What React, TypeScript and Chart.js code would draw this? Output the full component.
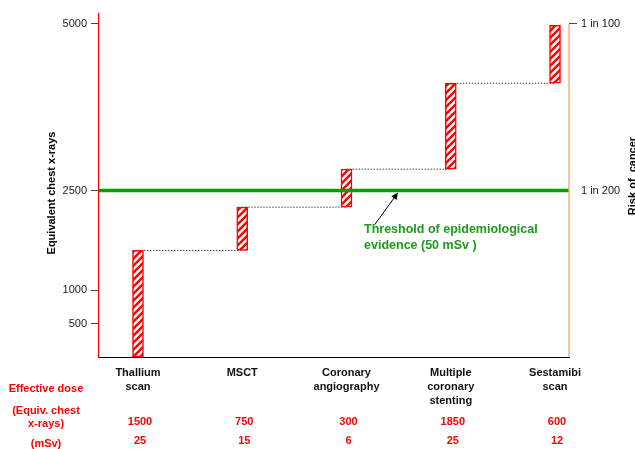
import React, { useEffect, useRef } from 'react';
import { Chart, registerables } from 'chart.js';

Chart.register(...registerables);

// ---------- data ----------
const procedures: string[][] = [
  ['Thallium', 'scan'],
  ['MSCT'],
  ['Coronary', 'angiography'],
  ['Multiple', 'coronary', 'stenting'],
  ['Sestamibi', 'scan'],
];
const barStart = [0, 1600, 2250, 2820, 4110];
const barEnd = [1600, 2250, 2820, 4110, 4980];
const doseChestXrays = ['1500', '750', '300', '1850', '600'];
const doseMsv = ['25', '15', '6', '25', '12'];
const yTicks = [500, 1000, 2500, 5000];
const riskTickValues = [2500, 5000];
const riskTickLabels = ['1 in 200', '1 in 100'];
const thresholdValue = 2500;
const thresholdText = ['Threshold of epidemiological', 'evidence (50 mSv )'];
const rowLabels = ['Effective dose', '(Equiv. chest', 'x-rays)', '(mSv)'];

// ---------- style constants ----------
const FONT = "'Liberation Sans', Arial, Helvetica, sans-serif";
const RED = '#ff0000';
const GREEN = '#00a000';
const GREEN_TEXT = '#1c9c1c';
const ORANGE = '#ffa466';
const Y_MIN = 0;
const Y_MAX = 5150;
const X_MIN = -0.374;
const X_MAX = 4.134;

function makeHatch(): CanvasPattern | string {
  const s = 7;
  const c = document.createElement('canvas');
  c.width = s;
  c.height = s;
  const g = c.getContext('2d');
  if (!g) return RED;
  g.fillStyle = '#ffffff';
  g.fillRect(0, 0, s, s);
  g.strokeStyle = RED;
  g.lineWidth = 2.4;
  g.beginPath();
  g.moveTo(0, s);
  g.lineTo(s, 0);
  g.moveTo(-1, 1);
  g.lineTo(1, -1);
  g.moveTo(s - 1, s + 1);
  g.lineTo(s + 1, s - 1);
  g.stroke();
  const p = g.createPattern(c, 'repeat');
  return p || RED;
}

const overlayPlugin = {
  id: 'overlay',
  afterDraw(chart: any) {
    const { ctx, chartArea } = chart;
    const xs = chart.scales.x;
    const ys = chart.scales.y;
    ctx.save();

    // right risk axis line (orange)
    ctx.strokeStyle = ORANGE;
    ctx.lineWidth = 1.3;
    ctx.beginPath();
    ctx.moveTo(chartArea.right, ys.getPixelForValue(riskTickValues[1]));
    ctx.lineTo(chartArea.right, chartArea.bottom);
    ctx.stroke();

    // left axis title
    ctx.fillStyle = '#000';
    ctx.font = `bold 11px ${FONT}`;
    ctx.textAlign = 'center';
    ctx.textBaseline = 'middle';
    ctx.save();
    ctx.translate(52, 193);
    ctx.rotate(-Math.PI / 2);
    ctx.fillText('Equivalent chest x-rays', 0, 0);
    ctx.restore();

    // right axis title (partly off canvas)
    ctx.save();
    ctx.translate(636, 176);
    ctx.rotate(-Math.PI / 2);
    ctx.textBaseline = 'alphabetic';
    ctx.fillText('Risk of  cancer', 0, 0);
    ctx.restore();

    // threshold annotation: arrow
    const tipX = xs.getPixelForValue(2.494);
    const tipY = ys.getPixelForValue(thresholdValue) + 2;
    const tailX = xs.getPixelForValue(2.27);
    const tailY = ys.getPixelForValue(1985);
    const ang = Math.atan2(tipY - tailY, tipX - tailX);
    ctx.strokeStyle = '#000';
    ctx.fillStyle = '#000';
    ctx.lineWidth = 1;
    ctx.beginPath();
    ctx.moveTo(tailX, tailY);
    ctx.lineTo(tipX - 4 * Math.cos(ang), tipY - 4 * Math.sin(ang));
    ctx.stroke();
    const hl = 7;
    const hw = 3.2;
    ctx.beginPath();
    ctx.moveTo(tipX, tipY);
    ctx.lineTo(
      tipX - hl * Math.cos(ang) + hw * Math.sin(ang),
      tipY - hl * Math.sin(ang) - hw * Math.cos(ang)
    );
    ctx.lineTo(
      tipX - hl * Math.cos(ang) - hw * Math.sin(ang),
      tipY - hl * Math.sin(ang) + hw * Math.cos(ang)
    );
    ctx.closePath();
    ctx.fill();

    // threshold annotation: text
    ctx.fillStyle = GREEN_TEXT;
    ctx.font = `bold 12.5px ${FONT}`;
    ctx.textAlign = 'left';
    ctx.textBaseline = 'middle';
    const tx = xs.getPixelForValue(2.168);
    const ty = ys.getPixelForValue(1914);
    thresholdText.forEach((t, i) => ctx.fillText(t, tx, ty + i * 16.5));

    // bottom table
    ctx.fillStyle = RED;
    ctx.font = `bold 11px ${FONT}`;
    ctx.textAlign = 'center';
    const labelX = 46;
    ctx.fillText(rowLabels[0], labelX, 389);
    ctx.fillText(rowLabels[1], labelX, 411);
    ctx.fillText(rowLabels[2], labelX, 424);
    ctx.fillText(rowLabels[3], labelX, 444);
    procedures.forEach((_, i) => {
      const px = xs.getPixelForValue(i) + 2;
      ctx.fillText(doseChestXrays[i], px, 422);
      ctx.fillText(doseMsv[i], px, 441);
    });

    ctx.restore();
  },
};

export default function App() {
  const ref = useRef<HTMLCanvasElement | null>(null);

  useEffect(() => {
    if (!ref.current) return;
    Chart.defaults.font.family = FONT;
    const hatch = makeHatch();

    const connectors = procedures.slice(0, -1).map((_, i) => ({
      type: 'line' as const,
      data: [
        { x: i, y: barEnd[i] },
        { x: i + 1, y: barEnd[i] },
      ],
      borderColor: '#444',
      borderWidth: 1,
      borderDash: [1.5, 1.5],
      pointRadius: 0,
      order: 2,
    }));

    const chart = new Chart(ref.current, {
      type: 'bar',
      data: {
        datasets: [
          {
            type: 'bar',
            data: procedures.map((_, i) => ({ x: i, y: [barStart[i], barEnd[i]] })) as any,
            backgroundColor: hatch as any,
            borderColor: RED,
            borderWidth: 1.5,
            borderSkipped: false,
            barThickness: 11,
            grouped: false,
            order: 1,
          } as any,
          ...connectors,
          {
            type: 'line',
            data: [
              { x: X_MIN, y: thresholdValue },
              { x: X_MAX, y: thresholdValue },
            ],
            borderColor: GREEN,
            borderWidth: 3.3,
            pointRadius: 0,
            order: 0,
          } as any,
        ],
      },
      options: {
        animation: false,
        responsive: false,
        events: [],
        layout: { padding: { top: 14, left: 0, right: 0, bottom: 0 } },
        plugins: { legend: { display: false }, tooltip: { enabled: false } },
        scales: {
          x: {
            type: 'linear',
            min: X_MIN,
            max: X_MAX,
            offset: false,
            afterBuildTicks: (s: any) => {
              s.ticks = procedures.map((_, i) => ({ value: i }));
            },
            afterFit: (s: any) => {
              s.height = 92;
            },
            ticks: {
              autoSkip: false,
              maxRotation: 0,
              padding: 9,
              color: '#111',
              font: { size: 11, weight: 'bold', lineHeight: 14 / 11 },
              callback: (v: any) => procedures[Math.round(Number(v))] ?? '',
            },
            grid: { display: false, drawTicks: false, offset: false },
            border: { display: true, color: '#000', width: 1 },
          },
          y: {
            type: 'linear',
            position: 'left',
            min: Y_MIN,
            max: Y_MAX,
            afterBuildTicks: (s: any) => {
              s.ticks = yTicks.map((v) => ({ value: v }));
            },
            afterFit: (s: any) => {
              s.width = 99;
            },
            ticks: {
              padding: 4,
              color: '#222',
              font: { size: 11 },
              callback: (v: any) => String(v),
            },
            grid: { drawOnChartArea: false, tickLength: 8, tickColor: '#444', tickWidth: 1 },
            border: { display: true, color: RED, width: 1.2 },
          },
          y2: {
            type: 'linear',
            position: 'right',
            min: Y_MIN,
            max: Y_MAX,
            afterBuildTicks: (s: any) => {
              s.ticks = riskTickValues.map((v) => ({ value: v }));
            },
            afterFit: (s: any) => {
              s.width = 66;
            },
            ticks: {
              padding: 4,
              color: '#222',
              font: { size: 11 },
              callback: (v: any) => {
                const idx = riskTickValues.indexOf(Number(v));
                return idx >= 0 ? riskTickLabels[idx] : '';
              },
            },
            grid: {
              drawOnChartArea: false,
              tickLength: 8,
              tickWidth: 1,
              tickColor: (c: any) => (c.tick && c.tick.value === riskTickValues[1] ? '#444' : 'rgba(0,0,0,0)'),
            },
            border: { display: false },
          },
        },
      } as any,
      plugins: [overlayPlugin],
    });
    return () => chart.destroy();
  }, []);

  return (
    <div style={{ position: 'absolute', left: 0, top: 0, width: 635, height: 449, background: '#fff' }}>
      <canvas ref={ref} width={635} height={449} style={{ display: 'block' }} />
    </div>
  );
}
